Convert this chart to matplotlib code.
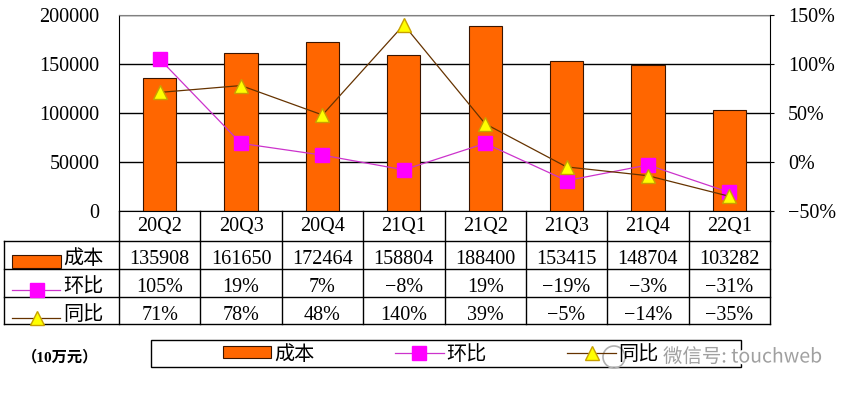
import numpy as np
import matplotlib
matplotlib.use('Agg')
import matplotlib.pyplot as plt
import matplotlib.transforms as mtransforms
from matplotlib.lines import Line2D
from matplotlib.patches import Rectangle, Patch, Ellipse
import matplotlib.patheffects as pe

plt.rcParams['font.family'] = ['Liberation Serif', 'Noto Sans CJK SC']
plt.rcParams['axes.unicode_minus'] = True

cats = ['20Q2', '20Q3', '20Q4', '21Q1', '21Q2', '21Q3', '21Q4', '22Q1']
cost = [135908, 161650, 172464, 158804, 188400, 153415, 148704, 103282]
qoq = [105, 19, 7, -8, 19, -19, -3, -31]
yoy = [71, 78, 48, 140, 39, -5, -14, -35]
row_names = ['成本', '环比', '同比']

W, H = 842, 396
def fx(px): return px / W
def fy(py): return 1 - py / H
def pct(v): return f'{v}%'.replace('-', '\u2212')

bar_c = '#FF6600'
qoq_line, qoq_mk = '#CC33CC', '#FF00FF'
yoy_line, yoy_mk, yoy_edge = '#663300', '#FFFF00', '#C8A000'
fs = 14.5

fig = plt.figure(figsize=(W / 100, H / 100), dpi=100)
ax = fig.add_axes([fx(119), fy(211), (770 - 119) / W, 196 / H])
x = np.arange(len(cats))

ax.bar(x, cost, width=0.41, color=bar_c, edgecolor='#3a1500', linewidth=0.8, zorder=2)
ax.set_xlim(-0.5, len(cats) - 0.5)
ax.set_ylim(0, 200000)
ax.set_yticks(range(0, 200001, 50000))
ax.set_xticks([])
ax.yaxis.grid(True, color='black', linewidth=1)
ax.set_axisbelow(True)
ax.tick_params(axis='y', length=0, pad=14, labelsize=fs)
ax.spines['top'].set_color('#808080')
ax.spines['right'].set_visible(False)

ax2 = ax.twinx()
ax2.set_ylim(-50, 150)
ax2.set_yticks(range(-50, 151, 50))
ax2.set_yticklabels([pct(v) for v in range(-50, 151, 50)])
ax2.plot(x, qoq, color=qoq_line, lw=0.9, marker='s', ms=10, mfc=qoq_mk, mec=qoq_mk, zorder=3)
ax2.plot(x, yoy, color=yoy_line, lw=0.9, marker='^', ms=10, mfc=yoy_mk, mec=yoy_edge, zorder=4)
ax2.tick_params(axis='y', length=3, pad=10, labelsize=fs)
for s in ['top', 'left', 'bottom']:
    ax2.spines[s].set_visible(False)

# data table under the axes
trans = mtransforms.blended_transform_factory(ax.transData, fig.transFigure)
for i in range(len(cats) + 1):
    fig.add_artist(Line2D([i - 0.5, i - 0.5], [fy(211), fy(324)], transform=trans, color='black', lw=1))
for py in [241, 269, 297, 324]:
    fig.add_artist(Line2D([fx(4), fx(770)], [fy(py), fy(py)], transform=fig.transFigure, color='black', lw=1))
fig.add_artist(Line2D([fx(4), fx(4)], [fy(241), fy(324)], transform=fig.transFigure, color='black', lw=1))

for i, c in enumerate(cats):
    fig.text(i, fy(226), c, transform=trans, ha='center', va='center', fontsize=fs)
    fig.text(i, fy(259), str(cost[i]), transform=trans, ha='center', va='center', fontsize=fs)
    fig.text(i, fy(287), pct(qoq[i]), transform=trans, ha='center', va='center', fontsize=fs)
    fig.text(i, fy(315), pct(yoy[i]), transform=trans, ha='center', va='center', fontsize=fs)

# row labels with their keys
fig.add_artist(Rectangle((fx(12), fy(268)), 49 / W, 13 / H, transform=fig.transFigure,
                         facecolor=bar_c, edgecolor='#3a1500', lw=0.8))
fig.add_artist(Line2D([fx(12), fx(60)], [fy(290), fy(290)], transform=fig.transFigure, color=qoq_line, lw=0.9))
fig.add_artist(Line2D([fx(37)], [fy(290)], transform=fig.transFigure, marker='s', ms=10, mfc=qoq_mk, mec=qoq_mk))
fig.add_artist(Line2D([fx(12), fx(60)], [fy(318), fy(318)], transform=fig.transFigure, color=yoy_line, lw=0.9))
fig.add_artist(Line2D([fx(37)], [fy(318)], transform=fig.transFigure, marker='^', ms=10, mfc=yoy_mk, mec=yoy_edge))
for name, py in zip(row_names, [259, 287, 315]):
    fig.text(fx(63), fy(py), name, ha='left', va='center', fontsize=fs)

# legend
handles = [Patch(facecolor=bar_c, edgecolor='#3a1500', lw=0.8),
           Line2D([], [], color=qoq_line, lw=0.9, marker='s', ms=10, mfc=qoq_mk, mec=qoq_mk),
           Line2D([], [], color=yoy_line, lw=0.9, marker='^', ms=10, mfc=yoy_mk, mec=yoy_edge)]
fig.legend(handles, row_names, loc='center', bbox_to_anchor=(fx(441), fy(355)), ncol=3,
           frameon=False, fontsize=fs, handlelength=2.4, handletextpad=0.15,
           columnspacing=4.0, handleheight=0.55)
fig.add_artist(Rectangle((fx(151), fy(367)), 590 / W, 27 / H, transform=fig.transFigure,
                         fill=False, edgecolor='black', lw=1))

fig.text(fx(22), fy(357), '（10万元）', ha='left', va='center', fontsize=11, fontweight='bold')

# watermark
fig.add_artist(Ellipse((fx(614), fy(357)), 22 / W, 22 / H, transform=fig.transFigure,
                       fill=False, edgecolor='#b0b0b0', lw=1.2))
fig.text(fx(663), fy(357), '微信号: touchweb', ha='left', va='center', fontsize=14,
         color='#a0a0a0', family=['Noto Sans CJK SC', 'DejaVu Sans'],
         path_effects=[pe.withStroke(linewidth=3, foreground='white')])

fig.savefig('out.png', dpi=100)
